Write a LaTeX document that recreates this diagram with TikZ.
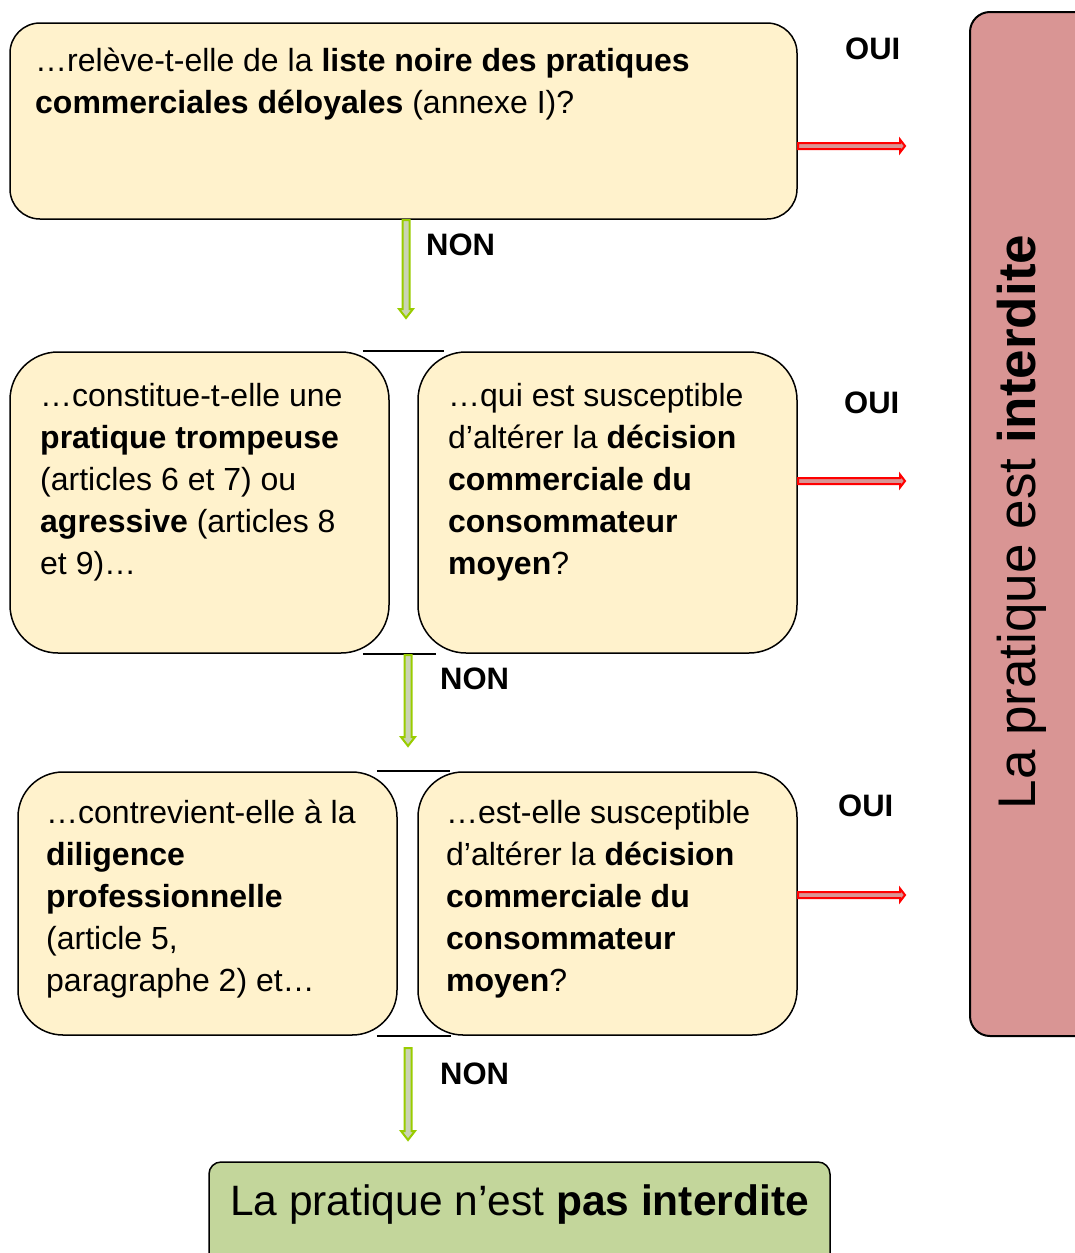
\documentclass[tikz,border=0pt]{standalone}
\usepackage{fontspec}
\setmainfont{Liberation Sans}
\usetikzlibrary{calc}
\definecolor{cream}{HTML}{FFF2CC}
\definecolor{rosy}{HTML}{D99594}
\definecolor{sage}{HTML}{C3D69B}
\definecolor{lime}{HTML}{99CC00}
\definecolor{limefill}{HTML}{C9D3B5}
\definecolor{redline}{HTML}{FF0000}
\tikzset{
  box/.style={draw=black, line width=1.5pt, fill=cream, inner sep=0pt},
  txt/.style={anchor=north west, inner sep=0pt, align=left, font=\fontsize{32}{42}\selectfont},
  lbl/.style={anchor=west, inner sep=0pt, font=\fontsize{31}{36}\selectfont\bfseries},
  garrow/.style={draw=lime, line width=2pt, fill=limefill, line join=miter},
  rarrow/.style={draw=redline, line width=2pt, fill=rosy, line join=miter},
  bracket/.style={draw=black, line width=2pt},
}
\newcommand\gdown[2]{\draw[garrow] ($(#1)+(-3.5,0)$) -- ($(#2)+(-3.5,-9)$) -- ($(#2)+(-7,-9)$) -- (#2) -- ($(#2)+(7,-9)$) -- ($(#2)+(3.5,-9)$) -- ($(#1)+(3.5,0)$) -- cycle;}
\newcommand\rright[2]{\draw[rarrow] ($(#1)+(0,-3)$) -- ($(#2)+(-5,-3)$) -- ($(#2)+(-5,-6.5)$) -- (#2) -- ($(#2)+(-5,6.5)$) -- ($(#2)+(-5,3)$) -- ($(#1)+(0,3)$) -- cycle;}
\begin{document}
\begin{tikzpicture}[x=1pt,y=-1pt]
\useasboundingbox (0,0) rectangle (1075,1253);
\clip (0,0) rectangle (1075,1253);
% boxes
\node[box, minimum width=787, minimum height=196, rounded corners=30] (b1) at (403.5,121) {};
\node[box, minimum width=379, minimum height=301, rounded corners=48] (b2l) at (199.5,502.5) {};
\node[box, minimum width=379, minimum height=301, rounded corners=48] (b2r) at (607.5,502.5) {};
\node[box, minimum width=379, minimum height=263, rounded corners=45] (b3l) at (207.5,903.5) {};
\node[box, minimum width=379, minimum height=263, rounded corners=45] (b3r) at (607.5,903.5) {};
\node[draw=black, line width=2pt, fill=rosy, minimum width=140, minimum height=1024, rounded corners=20, inner sep=0pt] (red) at (1040,524) {};
\node[draw=black, line width=1.5pt, fill=sage, minimum width=621, minimum height=128, rounded corners=12, inner sep=0pt] (green) at (519.5,1226) {};
% texts
\node[txt] (t1) at (35,41.6) {\strut…relève-t-elle de la \textbf{liste noire des pratiques}\\\textbf{commerciales déloyales} (annexe I)?};
\node[txt] (t2l) at (40,376.6) {\strut…constitue-t-elle une\\\textbf{pratique trompeuse}\\(articles 6 et 7) ou\\\textbf{agressive} (articles 8\\et 9)…};
\node[txt] (t2r) at (448,376.6) {\strut…qui est susceptible\\d’altérer la \textbf{décision}\\\textbf{commerciale du}\\\textbf{consommateur}\\\textbf{moyen}?};
\node[txt] (t3l) at (46,793.6) {\strut…contrevient-elle à la\\\textbf{diligence}\\\textbf{professionnelle}\\(article 5,\\paragraphe 2) et…};
\node[txt] (t3r) at (446,793.6) {\strut…est-elle susceptible\\d’altérer la \textbf{décision}\\\textbf{commerciale du}\\\textbf{consommateur}\\\textbf{moyen}?};
\node[rotate=90, anchor=base, inner sep=0pt, font=\fontsize{53}{60}\selectfont] (tred) at (1035,522) {La pratique est \textbf{interdite}};
\node[anchor=base, inner sep=0pt, font=\fontsize{42.5}{50}\selectfont] (tgreen) at (519.5,1215) {La pratique n’est \textbf{pas interdite}};
% brackets
\draw[bracket] ($(b2l.north east)+(-27,0)$) -- ($(b2r.north west)+(27,0)$);
\draw[bracket] ($(b2l.south east)+(-27,0)$) -- ($(b2r.south west)+(19,0)$);
\draw[bracket] ($(b3l.north east)+(-21,0)$) -- ($(b3r.north west)+(33,0)$);
\draw[bracket] ($(b3l.south east)+(-21,0)$) -- ($(b3r.south west)+(34,0)$);
% arrow end points
\coordinate (g1a) at (406,220);
\coordinate (g1b) at (406,318);
\coordinate (g2a) at (408,655);
\coordinate (g2b) at (408,746);
\coordinate (g3a) at (408,1048);
\coordinate (g3b) at (408,1140);
\coordinate (r1a) at (798,146);
\coordinate (r1b) at (905,146);
\coordinate (r2a) at (798,481);
\coordinate (r2b) at (905,481);
\coordinate (r3a) at (798,895);
\coordinate (r3b) at (905,895);
\gdown{g1a}{g1b}
\gdown{g2a}{g2b}
\gdown{g3a}{g3b}
\rright{r1a}{r1b}
\rright{r2a}{r2b}
\rright{r3a}{r3b}
% labels
\node[lbl] (non1) at (426,245) {NON};
\node[lbl] (non2) at (440,679) {NON};
\node[lbl] (non3) at (440,1074) {NON};
\node[lbl] (oui1) at (845,49) {OUI};
\node[lbl] (oui2) at (844,403) {OUI};
\node[lbl] (oui3) at (838,806) {OUI};
\end{tikzpicture}
\end{document}
